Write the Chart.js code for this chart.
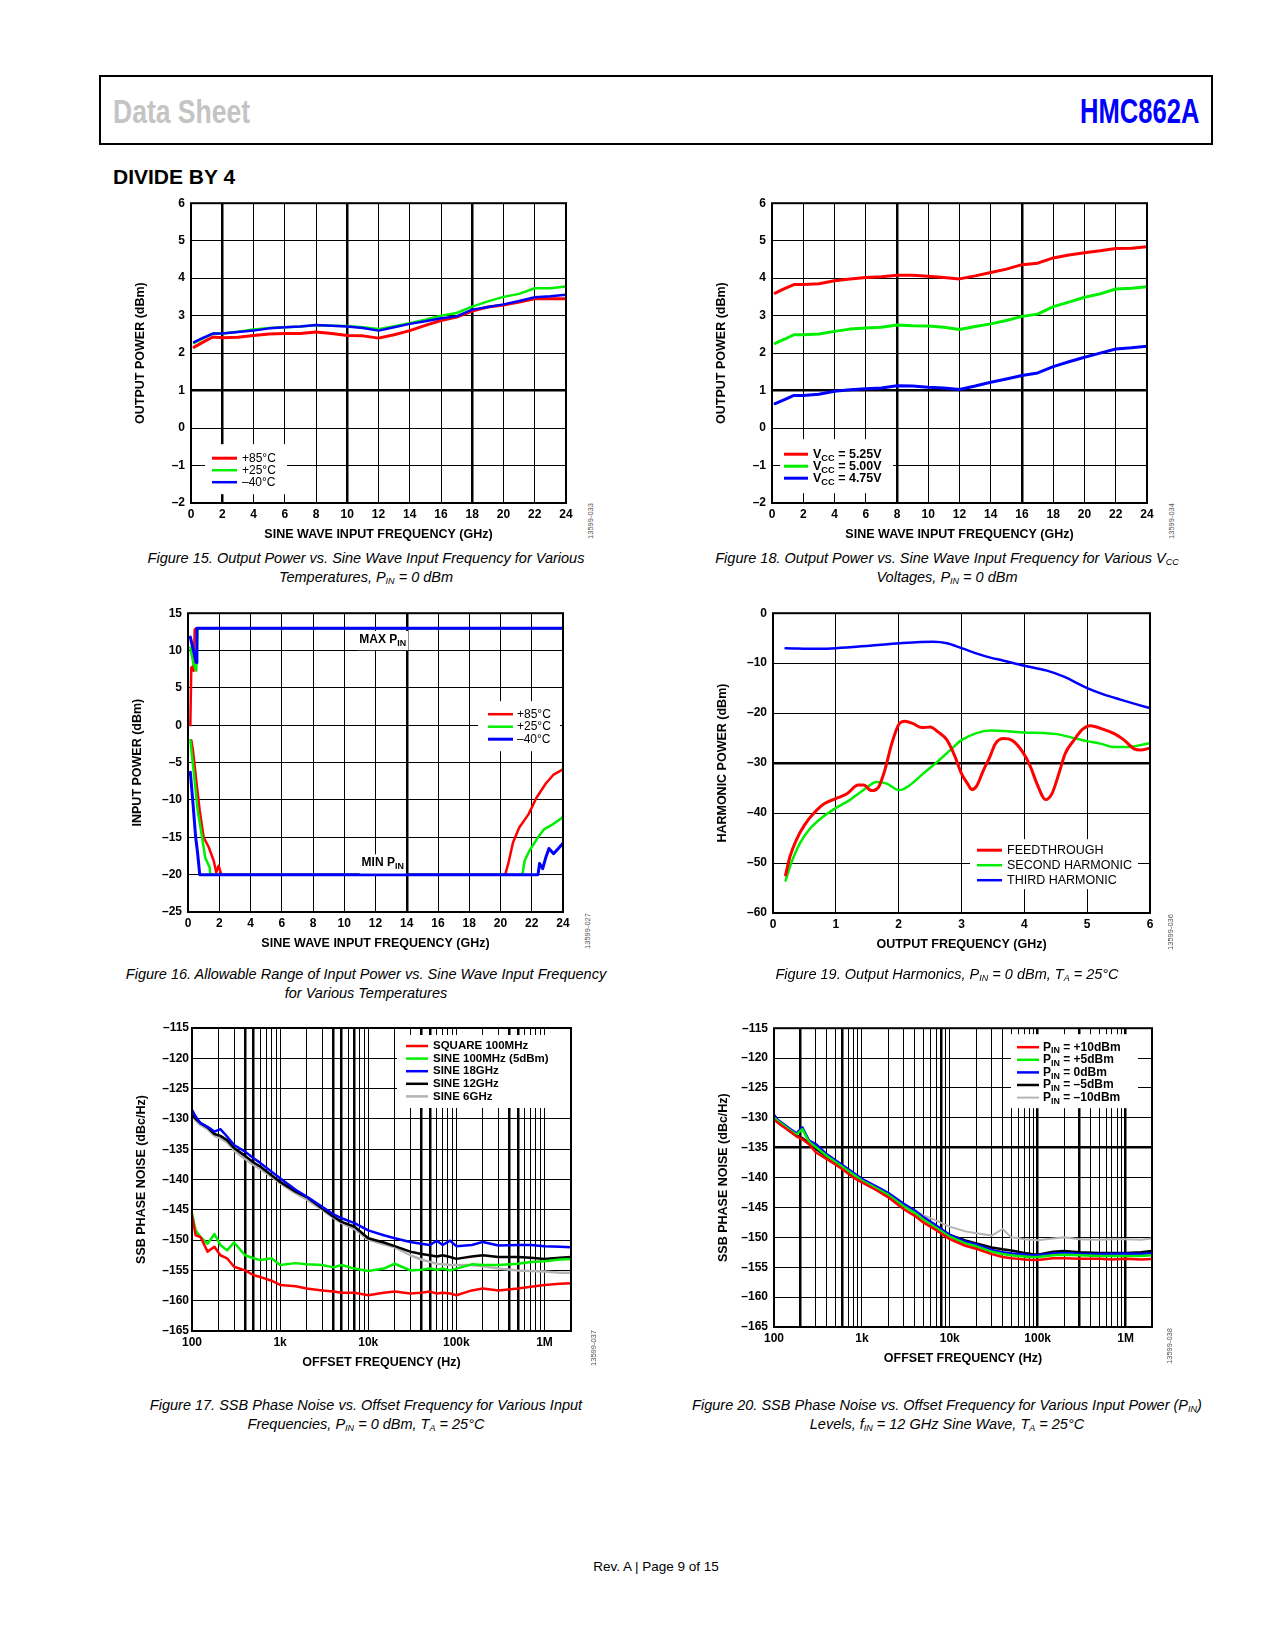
<!DOCTYPE html>
<html lang="en">
<head>
<meta charset="UTF-8">
<title>HMC862A Data Sheet — Divide by 4</title>
<script src="https://cdn.jsdelivr.net/npm/chart.js"></script>
<style>
    html, body { margin: 0; padding: 0; background: #fff; }
    body {
        width: 1275px; height: 1650px; position: relative; overflow: hidden;
        font-family: "Liberation Sans", Arial, sans-serif; color: #000;
    }
    .hdr {
        position: absolute; left: 99px; top: 75px; width: 1114px; height: 70px;
        border: 2.5px solid #000; box-sizing: border-box;
    }
    .ds {
        position: absolute; left: 113px; top: 94px; font-size: 34px; line-height: 34px;
        font-weight: bold; color: #c4c4c4; white-space: nowrap;
        transform: scaleX(0.78); transform-origin: left top;
    }
    .part {
        position: absolute; right: 76px; top: 93px; font-size: 35px; line-height: 35px;
        font-weight: bold; color: #0000ff; white-space: nowrap;
        transform: scaleX(0.73); transform-origin: right top;
    }
    .sec {
        position: absolute; left: 113px; top: 166px; font-size: 21px; line-height: 21px;
        font-weight: bold; white-space: nowrap;
    }
    canvas.fig { position: absolute; }
    .cap {
        position: absolute; width: 600px; text-align: center; font-style: italic;
        font-size: 14.5px; line-height: 18.7px; white-space: nowrap;
    }
    .cap sub { font-size: 9px; vertical-align: -2px; line-height: 0; }
    .fid {
        position: absolute; width: 50px; height: 10px; line-height: 10px; text-align: center;
        font-size: 7.5px; color: #555; transform: rotate(-90deg); white-space: nowrap;
    }
    .foot {
        position: absolute; left: 556px; width: 200px; top: 1559px; text-align: center;
        font-size: 13.5px; line-height: 16px; white-space: nowrap;
    }
</style>
<script>
    // ---- Figure 15: output power vs frequency, temperatures ----
    const f15Freq = [0.2, 0.8, 1.4, 2, 3, 4, 5, 6, 7, 8, 9, 10, 11, 12, 13, 14, 15, 16, 17, 18, 19, 20, 21, 22, 23, 24];
    const f15Hot  = [2.16, 2.30, 2.43, 2.41, 2.42, 2.47, 2.51, 2.52, 2.52, 2.56, 2.52, 2.47, 2.46, 2.40, 2.49, 2.60, 2.74, 2.87, 2.96, 3.12, 3.23, 3.28, 3.36, 3.45, 3.45, 3.45];
    const f15Room = [2.27, 2.40, 2.52, 2.52, 2.57, 2.63, 2.67, 2.69, 2.71, 2.74, 2.73, 2.72, 2.69, 2.64, 2.72, 2.80, 2.89, 3.00, 3.07, 3.24, 3.38, 3.50, 3.58, 3.73, 3.73, 3.78];
    const f15Cold = [2.29, 2.41, 2.52, 2.52, 2.56, 2.60, 2.66, 2.69, 2.71, 2.75, 2.73, 2.71, 2.67, 2.60, 2.69, 2.78, 2.85, 2.93, 2.98, 3.16, 3.23, 3.30, 3.39, 3.49, 3.52, 3.56];
    const tempLabels = ['+85°C', '+25°C', '\u201340°C'];

    // ---- Figure 18: output power vs frequency, supply voltages ----
    const f18Freq = [0.2, 0.8, 1.4, 2, 3, 4, 5, 6, 7, 8, 9, 10, 11, 12, 13, 14, 15, 16, 17, 18, 19, 20, 21, 22, 23, 24];
    const f18V525 = [3.60, 3.72, 3.83, 3.83, 3.85, 3.93, 3.98, 4.02, 4.04, 4.08, 4.08, 4.05, 4.02, 3.98, 4.06, 4.15, 4.24, 4.36, 4.40, 4.54, 4.62, 4.68, 4.73, 4.79, 4.80, 4.84];
    const f18V500 = [2.26, 2.37, 2.49, 2.49, 2.51, 2.58, 2.64, 2.67, 2.69, 2.75, 2.73, 2.72, 2.69, 2.63, 2.71, 2.78, 2.87, 2.98, 3.04, 3.24, 3.36, 3.49, 3.58, 3.71, 3.73, 3.77];
    const f18V475 = [0.65, 0.76, 0.87, 0.87, 0.90, 0.98, 1.02, 1.05, 1.07, 1.13, 1.12, 1.09, 1.07, 1.03, 1.12, 1.22, 1.31, 1.40, 1.47, 1.64, 1.77, 1.89, 2.00, 2.11, 2.14, 2.18];
    const vccLabels = ['V_CC = 5.25V', 'V_CC = 5.00V', 'V_CC = 4.75V'];

    // ---- Figure 16: allowable input power range ----
    const f16HotMaxFreq  = [0.15, 0.21, 0.32, 0.36, 0.43, 0.53, 24];
    const f16HotMax      = [0, 7.7, 7.9, 7.3, 12.8, 13, 13];
    const f16RoomMaxFreq = [0.15, 0.36, 0.53, 0.62, 24];
    const f16RoomMax     = [10.4, 8.1, 7.3, 13, 13];
    const f16ColdMaxFreq = [0.15, 0.36, 0.53, 0.57, 24];
    const f16ColdMax     = [11.8, 9.9, 8.4, 13, 13];
    const f16HotMinFreq  = [0.21, 0.32, 0.53, 0.75, 1.0, 1.32, 1.64, 1.81, 1.96, 2.13, 20.3, 20.5, 20.8, 21.2, 21.8, 22.3, 22.9, 23.4, 24];
    const f16HotMin      = [-2, -3.4, -7.4, -11.4, -15, -16.3, -18.1, -19.7, -18.8, -20, -20, -18.5, -15.7, -13.7, -11.9, -9.7, -7.8, -6.6, -5.9];
    const f16RoomMinFreq = [0.15, 0.36, 0.62, 0.9, 1.1, 1.38, 1.43, 21.4, 21.55, 21.85, 22.4, 22.8, 23.4, 24];
    const f16RoomMin     = [-2, -6.1, -11.4, -15, -17.7, -19, -20, -20, -18.1, -16.8, -15, -13.9, -13.2, -12.3];
    const f16ColdMinFreq = [0.15, 0.32, 0.49, 0.62, 0.75, 22.4, 22.5, 22.7, 22.9, 23.1, 23.4, 23.7, 24];
    const f16ColdMin     = [-6.3, -10.5, -15, -17.2, -20, -20, -18.5, -19.2, -17.7, -16.5, -17.2, -16.5, -15.8];

    // ---- Figure 19: output harmonics ----
    const f19FeedFreq = [0.2, 0.27, 0.37, 0.5, 0.66, 0.82, 1.0, 1.17, 1.36, 1.44, 1.57, 1.68, 1.78, 1.89, 2.01, 2.1, 2.23, 2.37, 2.5, 2.63, 2.77, 2.9, 3.0, 3.11, 3.16, 3.24, 3.35, 3.45, 3.54, 3.67, 3.8, 3.99, 4.1, 4.2, 4.34, 4.44, 4.55, 4.65, 4.79, 4.92, 5.05, 5.27, 5.43, 5.59, 5.74, 5.85, 6.0];
    const f19Feed     = [-52.4, -48.7, -45.4, -42.4, -39.9, -38.1, -37.1, -36.2, -34.4, -34.4, -35.5, -34.8, -31.4, -26.1, -22.1, -21.6, -22.1, -22.9, -22.8, -23.8, -25.4, -28.8, -32.1, -34.4, -35.3, -34.6, -31.4, -28.8, -26.1, -25.1, -25.4, -28.1, -30.8, -34.1, -37.3, -36.1, -32.1, -28.1, -25.4, -23.3, -22.5, -23.3, -24.1, -25.4, -27.1, -27.4, -27.0];
    const f19SecondFreq = [0.2, 0.29, 0.43, 0.59, 0.8, 1.01, 1.22, 1.44, 1.65, 1.81, 2.01, 2.18, 2.39, 2.61, 2.82, 3.0, 3.24, 3.46, 3.67, 4.0, 4.31, 4.52, 4.73, 5.0, 5.21, 5.43, 5.64, 5.8, 6.0];
    const f19Second     = [-53.5, -50.0, -46.0, -43.1, -40.7, -38.9, -37.4, -35.4, -33.8, -34.1, -35.4, -34.4, -32.1, -29.8, -27.4, -25.4, -24.0, -23.5, -23.6, -23.9, -24.0, -24.2, -24.8, -25.6, -26.1, -26.8, -26.8, -26.5, -26.0];
    const f19ThirdFreq = [0.2, 0.74, 1.0, 1.54, 2.02, 2.55, 2.77, 3.0, 3.4, 3.67, 4.0, 4.36, 4.63, 5.0, 5.27, 5.53, 5.8, 6.0];
    const f19Third     = [-7.0, -7.1, -7.0, -6.5, -6.0, -5.7, -6.0, -7.0, -8.7, -9.5, -10.5, -11.5, -12.7, -15.0, -16.3, -17.3, -18.3, -19.0];
    const harmLabels = ['FEEDTHROUGH', 'SECOND HARMONIC', 'THIRD HARMONIC'];

    // ---- Figure 17: phase noise, input frequencies ----
    const f17Freq = [100, 110, 125, 150, 180, 210, 250, 300, 400, 500, 600, 800, 1000, 1500, 2000, 3000, 4000, 5000, 7000, 10000, 15000, 20000, 30000, 40000, 50000, 60000, 70000, 85000, 100000, 150000, 200000, 300000, 500000, 700000, 1000000, 1500000, 2000000];
    const f17Square = [-145.9, -149.2, -149.5, -151.9, -151.1, -152.5, -153.0, -154.4, -155.0, -155.8, -156.1, -156.7, -157.4, -157.6, -158.0, -158.3, -158.5, -158.7, -158.7, -159.1, -158.7, -158.5, -158.8, -158.7, -158.5, -158.8, -158.7, -158.8, -159.1, -158.3, -158.0, -158.3, -158.0, -157.7, -157.4, -157.2, -157.1];
    const f17Sine100 = [-145.6, -148.4, -149.5, -150.6, -149.0, -150.8, -151.7, -150.4, -152.5, -153.0, -153.3, -153.0, -154.1, -153.8, -154.0, -154.1, -154.5, -154.1, -154.7, -155.1, -154.7, -153.9, -155.0, -154.9, -154.7, -154.9, -154.7, -155.0, -154.7, -154.0, -154.1, -154.1, -153.9, -153.6, -153.5, -153.2, -153.1];
    const f17Sine18G = [-128.5, -129.6, -130.7, -131.3, -132.1, -131.7, -132.9, -134.3, -135.4, -136.5, -137.3, -138.7, -139.8, -141.7, -142.8, -144.5, -145.7, -146.4, -147.2, -148.4, -149.2, -149.7, -150.3, -150.6, -150.8, -150.1, -150.8, -150.1, -151.0, -150.8, -150.3, -150.9, -150.8, -150.8, -151.0, -151.1, -151.2];
    const f17Sine12G = [-129.2, -130.0, -130.7, -131.4, -132.5, -132.8, -133.5, -134.8, -136.1, -137.2, -137.9, -139.3, -140.4, -142.0, -142.9, -144.8, -146.1, -147.0, -147.8, -149.7, -150.4, -151.0, -151.9, -152.3, -152.5, -152.7, -152.5, -152.8, -153.1, -152.7, -152.5, -152.8, -152.8, -152.9, -153.1, -152.9, -152.8];
    const f17Sine6G  = [-129.3, -130.3, -131.0, -131.7, -132.8, -133.2, -133.9, -135.2, -136.6, -137.6, -138.3, -139.6, -140.6, -142.3, -143.3, -145.0, -146.3, -147.2, -148.2, -149.9, -150.7, -151.2, -152.5, -153.2, -153.6, -153.9, -154.0, -154.1, -154.1, -154.1, -154.3, -154.7, -155.0, -155.1, -155.2, -155.4, -155.4];
    const f17Labels = ['SQUARE 100MHz', 'SINE 100MHz (5dBm)', 'SINE 18GHz', 'SINE 12GHz', 'SINE 6GHz'];

    // ---- Figure 20: phase noise, input power levels ----
    const f20Freq = [100, 110, 125, 150, 180, 210, 250, 300, 400, 500, 600, 800, 1000, 1500, 2000, 3000, 4000, 5000, 7000, 10000, 15000, 20000, 30000, 40000, 50000, 60000, 70000, 85000, 100000, 150000, 200000, 300000, 500000, 700000, 1000000, 1500000, 2000000];
    const f20P10  = [-130.3, -130.8, -131.4, -132.2, -133.1, -133.6, -134.4, -135.8, -136.9, -137.8, -138.6, -140.0, -140.8, -142.2, -143.3, -145.3, -146.4, -147.5, -148.8, -150.3, -151.4, -151.9, -152.8, -153.3, -153.5, -153.6, -153.7, -153.8, -153.8, -153.5, -153.5, -153.6, -153.6, -153.7, -153.6, -153.7, -153.6];
    const f20P5   = [-130.0, -130.5, -131.1, -132.0, -132.8, -131.9, -134.0, -134.9, -136.4, -137.4, -138.2, -139.5, -140.5, -141.9, -142.9, -144.8, -145.9, -147.0, -148.4, -149.9, -151.0, -151.5, -152.4, -152.8, -153.0, -153.1, -153.2, -153.3, -153.3, -153.0, -152.9, -153.0, -153.1, -153.1, -153.1, -153.1, -153.0];
    const f20P0   = [-129.5, -130.3, -130.9, -131.8, -132.6, -131.6, -133.8, -134.4, -136.1, -137.1, -137.9, -139.2, -140.2, -141.6, -142.6, -144.4, -145.5, -146.6, -148.0, -149.6, -150.7, -151.2, -152.1, -152.5, -152.7, -152.8, -152.9, -153.0, -153.0, -152.7, -152.6, -152.8, -152.8, -152.8, -152.7, -152.8, -152.6];
    const f20Pm5  = [-130.1, -130.7, -131.2, -132.2, -133.0, -133.4, -134.2, -135.2, -136.5, -137.5, -138.3, -139.6, -140.5, -141.9, -142.9, -144.7, -145.8, -146.8, -148.1, -149.6, -150.5, -151.0, -151.7, -152.0, -152.2, -152.4, -152.6, -152.8, -152.9, -152.4, -152.3, -152.5, -152.6, -152.6, -152.6, -152.5, -152.3];
    const f20Pm10 = [-130.1, -130.6, -131.2, -132.1, -132.9, -133.3, -134.1, -135.0, -136.4, -137.4, -138.2, -139.4, -140.3, -141.5, -142.5, -144.7, -145.6, -146.3, -147.2, -148.2, -149.0, -149.3, -149.7, -148.6, -150.0, -150.1, -150.3, -150.4, -150.5, -150.2, -150.0, -150.3, -150.4, -150.3, -150.3, -150.4, -150.2];
    const f20Labels = ['P_IN = +10dBm', 'P_IN = +5dBm', 'P_IN = 0dBm', 'P_IN = \u20135dBm', 'P_IN = \u201310dBm'];

    // tick labels of the offset-frequency axes
    const offsetTickValues = [100, 1000, 10000, 100000, 1000000];
    const offsetTickLabels = ['100', '1k', '10k', '100k', '1M'];

    // plot areas on the page: left, top, right, bottom
    const plotRects = {
        fig15: [191, 202, 566, 503],
        fig18: [772, 202, 1147, 503],
        fig16: [188, 612, 563, 912],
        fig19: [773, 612, 1150, 913],
        fig17: [192, 1028, 571, 1331],
        fig20: [774, 1027, 1152, 1327]
    };

    const RED = '#ff0000', GREEN = '#00ee00', BLUE = '#0000ff', BLACK = '#000000', GRAY = '#b4b4b4';
    const FONT = '"Liberation Sans", Arial, sans-serif';

    function pts(xs, ys) {
        return xs.map((x, i) => ({ x: x, y: ys[i] }));
    }

    function series(label, xs, ys, color, width, order, extra) {
        return Object.assign({
            label: label, data: pts(xs, ys), borderColor: color, backgroundColor: color,
            borderWidth: width, order: order, pointRadius: 0, fill: false, tension: 0
        }, extra || {});
    }

    const dash = v => (v < 0 ? '\u2013' + Math.abs(v) : String(v));

    // text with "_XX" subscripts; returns its width
    function rich(ctx, text, x, y, size, weight, measureOnly) {
        const parts = text.split(/_(\w+)/);
        const sub = size * 0.74;
        let cx = x;
        ctx.textAlign = 'left';
        ctx.textBaseline = 'middle';
        parts.forEach((p, i) => {
            const s = i % 2 ? sub : size;
            ctx.font = weight + ' ' + s + 'px ' + FONT;
            if (!measureOnly) ctx.fillText(p, cx, i % 2 ? y + size * 0.32 : y);
            cx += ctx.measureText(p).width;
        });
        return cx - x;
    }

    // legend box, notes and plot frame
    function decor(cfg) {
        return {
            id: 'decor',
            afterDatasetsDraw(chart) {
                const { ctx, chartArea: a, scales } = chart;
                ctx.save();
                (cfg.notes || []).forEach(n => {
                    const px = scales.x.getPixelForValue(n.x);
                    const py = scales.y.getPixelForValue(n.y);
                    const w = rich(ctx, n.text, 0, 0, n.size, 'bold', true);
                    ctx.fillStyle = '#fff';
                    ctx.fillRect(px - w / 2 - 2, py - n.size * 0.7, w + 4, n.size * 1.6);
                    ctx.fillStyle = '#000';
                    rich(ctx, n.text, px - w / 2, py, n.size, 'bold');
                });
                const L = cfg.legend;
                if (L) {
                    ctx.fillStyle = '#fff';
                    ctx.fillRect(a.left + L.box[0], a.top + L.box[1], L.box[2], L.box[3]);
                    let row = 0;
                    chart.data.datasets.forEach(ds => {
                        if (!ds.label) return;
                        const y = a.top + L.y0 + row * L.rowH;
                        const x = a.left + L.x0;
                        ctx.strokeStyle = ds.borderColor;
                        ctx.lineWidth = ds.borderWidth;
                        ctx.lineCap = 'butt';
                        ctx.beginPath();
                        ctx.moveTo(x, y);
                        ctx.lineTo(x + L.len, y);
                        ctx.stroke();
                        ctx.fillStyle = '#000';
                        rich(ctx, ds.label, x + L.len + L.gap, y, L.size, L.weight);
                        row++;
                    });
                }
                ctx.strokeStyle = '#000';
                ctx.lineWidth = 2;
                ctx.strokeRect(a.left, a.top, a.right - a.left, a.bottom - a.top);
                ctx.restore();
            }
        };
    }

    function gridOf(bold) {
        return {
            color: '#000', drawTicks: false,
            lineWidth: c => (c.tick && bold.includes(c.tick.value) ? 2.5 : 1)
        };
    }

    function logGrid(min, max) {
        const out = [];
        for (let d = min; d <= max; d *= 10) {
            for (let m = 1; m <= 9; m++) if (d * m <= max) out.push(d * m);
        }
        return out;
    }

    function makeChart(id, ax, datasets, cfg) {
        const r = plotRects[id];
        const cv = document.getElementById(id);
        const w = r[2] - r[0] + 80, h = r[3] - r[1] + 56;
        cv.width = w; cv.height = h;
        cv.style.left = (r[0] - 60) + 'px';
        cv.style.top = (r[1] - 12) + 'px';
        cv.style.width = w + 'px';
        cv.style.height = h + 'px';

        const titleFont = { size: 12.5, weight: 'bold' };
        let xScale;
        if (ax.log) {
            const grid = logGrid(ax.xMin, ax.xMax);
            xScale = {
                type: 'logarithmic', min: ax.xMin, max: ax.xMax,
                afterBuildTicks: s => { s.ticks = grid.map(v => ({ value: v })); },
                ticks: {
                    autoSkip: false, maxRotation: 0, padding: 4, font: { size: 12, weight: 'bold' },
                    callback: v => {
                        const k = offsetTickValues.indexOf(v);
                        return k >= 0 ? offsetTickLabels[k] : '';
                    }
                }
            };
        } else {
            xScale = {
                type: 'linear', min: ax.xMin, max: ax.xMax,
                ticks: { stepSize: ax.xStep, autoSkip: false, maxRotation: 0, padding: 4,
                         font: { size: 12, weight: 'bold' }, callback: dash }
            };
        }
        Object.assign(xScale, {
            afterFit: s => { s.height = 44; },
            grid: gridOf(ax.xBold), border: { display: false },
            title: { display: true, text: ax.xTitle, color: '#000', font: titleFont, padding: { top: 0, bottom: 5 } }
        });

        return new Chart(cv, {
            type: 'line',
            data: { datasets: datasets },
            options: {
                responsive: false, animation: false,
                layout: { padding: { left: 2, top: 12, right: 20, bottom: 0 } },
                plugins: { legend: { display: false }, tooltip: { enabled: false } },
                elements: { point: { radius: 0 }, line: { borderJoinStyle: 'round', borderCapStyle: 'round' } },
                scales: {
                    x: xScale,
                    y: {
                        type: 'linear', min: ax.yMin, max: ax.yMax,
                        afterFit: s => { s.width = 58; },
                        ticks: { stepSize: ax.yStep, padding: ax.yPad, font: { size: 12, weight: 'bold' }, callback: dash },
                        grid: gridOf(ax.yBold), border: { display: false },
                        title: { display: true, text: ax.yTitle, color: '#000', font: titleFont, padding: { top: 0, bottom: 0 } }
                    }
                }
            },
            plugins: [decor(cfg)]
        });
    }

    document.addEventListener('DOMContentLoaded', function () {
        Chart.defaults.font.family = FONT;
        Chart.defaults.font.weight = 'bold';
        Chart.defaults.color = '#000';

        const freqAxis = { xMin: 0, xMax: 24, xStep: 2, xTitle: 'SINE WAVE INPUT FREQUENCY (GHz)', yPad: 6 };

        makeChart('fig15', Object.assign({}, freqAxis, {
            yMin: -2, yMax: 6, yStep: 1, yTitle: 'OUTPUT POWER (dBm)', xBold: [2, 10, 18], yBold: [1]
        }), [
            series(tempLabels[0], f15Freq, f15Hot, RED, 3, 2),
            series(tempLabels[1], f15Freq, f15Room, GREEN, 2.5, 1),
            series(tempLabels[2], f15Freq, f15Cold, BLUE, 2.5, 0)
        ], { legend: { box: [14, 241, 82, 50], x0: 21, len: 25, gap: 5, y0: 255, rowH: 12, size: 12, weight: 'normal' } });

        makeChart('fig18', Object.assign({}, freqAxis, {
            yMin: -2, yMax: 6, yStep: 1, yTitle: 'OUTPUT POWER (dBm)', xBold: [8, 16], yBold: [1]
        }), [
            series(vccLabels[0], f18Freq, f18V525, RED, 3, 0),
            series(vccLabels[1], f18Freq, f18V500, GREEN, 3, 1),
            series(vccLabels[2], f18Freq, f18V475, BLUE, 3, 2)
        ], { legend: { box: [8, 236, 113, 54], x0: 12, len: 24, gap: 5, y0: 251, rowH: 12, size: 12.5, weight: 'bold' } });

        makeChart('fig16', Object.assign({}, freqAxis, {
            yMin: -25, yMax: 15, yStep: 5, yTitle: 'INPUT POWER (dBm)', xBold: [14], yBold: []
        }), [
            series(tempLabels[0], f16HotMinFreq, f16HotMin, RED, 2.5, 4),
            series(tempLabels[1], f16RoomMinFreq, f16RoomMin, GREEN, 2.5, 2),
            series(tempLabels[2], f16ColdMinFreq, f16ColdMin, BLUE, 3, 0),
            series('', f16HotMaxFreq, f16HotMax, RED, 2.5, 5),
            series('', f16RoomMaxFreq, f16RoomMax, GREEN, 2.5, 3),
            series('', f16ColdMaxFreq, f16ColdMax, BLUE, 3, 1)
        ], {
            legend: { box: [290, 88, 82, 50], x0: 300, len: 25, gap: 4, y0: 101, rowH: 12.5, size: 12, weight: 'normal' },
            notes: [{ x: 12.46, y: 11.5, text: 'MAX P_IN', size: 12 }, { x: 12.46, y: -18.4, text: 'MIN P_IN', size: 12 }]
        });

        makeChart('fig19', {
            xMin: 0, xMax: 6, xStep: 1, xTitle: 'OUTPUT FREQUENCY (GHz)', yPad: 6,
            yMin: -60, yMax: 0, yStep: 10, yTitle: 'HARMONIC POWER (dBm)', xBold: [], yBold: [-30]
        }, [
            series(harmLabels[0], f19FeedFreq, f19Feed, RED, 3, 0, { cubicInterpolationMode: 'monotone' }),
            series(harmLabels[1], f19SecondFreq, f19Second, GREEN, 2.5, 1, { cubicInterpolationMode: 'monotone' }),
            series(harmLabels[2], f19ThirdFreq, f19Third, BLUE, 2.5, 2, { cubicInterpolationMode: 'monotone' })
        ], { legend: { box: [197, 226, 168, 50], x0: 204, len: 25, gap: 5, y0: 237, rowH: 15, size: 12.5, weight: 'normal' } });

        const noiseAxis = { log: true, xMin: 100, xMax: 2000000, xTitle: 'OFFSET FREQUENCY (Hz)',
                            yMin: -165, yMax: -115, yStep: 5, yTitle: 'SSB PHASE NOISE (dBc/Hz)' };

        makeChart('fig17', Object.assign({}, noiseAxis, {
            yPad: 3, xBold: [400, 500, 4000, 5000, 7000, 40000, 50000, 400000, 500000], yBold: []
        }), [
            series(f17Labels[0], f17Freq, f17Square, RED, 2.5, 0),
            series(f17Labels[1], f17Freq, f17Sine100, GREEN, 2.5, 1),
            series(f17Labels[2], f17Freq, f17Sine18G, BLUE, 2.5, 2),
            series(f17Labels[3], f17Freq, f17Sine12G, BLACK, 2.5, 3),
            series(f17Labels[4], f17Freq, f17Sine6G, GRAY, 2.5, 4)
        ], { legend: { box: [205, 7, 174, 73], x0: 214, len: 22, gap: 5, y0: 18, rowH: 12.6, size: 11.5, weight: 'bold' } });

        makeChart('fig20', Object.assign({}, noiseAxis, {
            yPad: 6, xBold: [200, 600, 8000, 100000, 300000, 1000000], yBold: [-135]
        }), [
            series(f20Labels[0], f20Freq, f20P10, RED, 2.5, 0),
            series(f20Labels[1], f20Freq, f20P5, GREEN, 2.5, 1),
            series(f20Labels[2], f20Freq, f20P0, BLUE, 2.5, 2),
            series(f20Labels[3], f20Freq, f20Pm5, BLACK, 2.5, 3),
            series(f20Labels[4], f20Freq, f20Pm10, GRAY, 2, 4)
        ], { legend: { box: [237, 6, 127, 74], x0: 243, len: 22, gap: 4, y0: 19, rowH: 12.6, size: 12, weight: 'bold' } });
    });
</script>
</head>
<body>
    <div class="hdr"></div>
    <div class="ds">Data Sheet</div>
    <div class="part">HMC862A</div>
    <div class="sec">DIVIDE BY 4</div>

    <canvas class="fig" id="fig15"></canvas>
    <canvas class="fig" id="fig18"></canvas>
    <canvas class="fig" id="fig16"></canvas>
    <canvas class="fig" id="fig19"></canvas>
    <canvas class="fig" id="fig17"></canvas>
    <canvas class="fig" id="fig20"></canvas>

    <div class="fid" style="left:566px; top:516px;">13599-033</div>
    <div class="fid" style="left:1147px; top:516px;">13599-034</div>
    <div class="fid" style="left:563px; top:926px;">13599-027</div>
    <div class="fid" style="left:1146px; top:927px;">13599-036</div>
    <div class="fid" style="left:569px; top:1343px;">13599-037</div>
    <div class="fid" style="left:1145px; top:1341px;">13599-038</div>

    <div class="cap" style="left:66px; top:549px;">Figure 15. Output Power vs. Sine Wave Input Frequency for Various<br>Temperatures, P<sub>IN</sub> = 0 dBm</div>
    <div class="cap" style="left:647px; top:549px;">Figure 18. Output Power vs. Sine Wave Input Frequency for Various V<sub>CC</sub><br>Voltages, P<sub>IN</sub> = 0 dBm</div>
    <div class="cap" style="left:66px; top:965px;">Figure 16. Allowable Range of Input Power vs. Sine Wave Input Frequency<br>for Various Temperatures</div>
    <div class="cap" style="left:647px; top:965px;">Figure 19. Output Harmonics, P<sub>IN</sub> = 0 dBm, T<sub>A</sub> = 25°C</div>
    <div class="cap" style="left:66px; top:1396px;">Figure 17. SSB Phase Noise vs. Offset Frequency for Various Input<br>Frequencies, P<sub>IN</sub> = 0 dBm, T<sub>A</sub> = 25°C</div>
    <div class="cap" style="left:647px; top:1396px;">Figure 20. SSB Phase Noise vs. Offset Frequency for Various Input Power (P<sub>IN</sub>)<br>Levels, f<sub>IN</sub> = 12 GHz Sine Wave, T<sub>A</sub> = 25°C</div>

    <div class="foot">Rev. A | Page 9 of 15</div>
</body>
</html>
